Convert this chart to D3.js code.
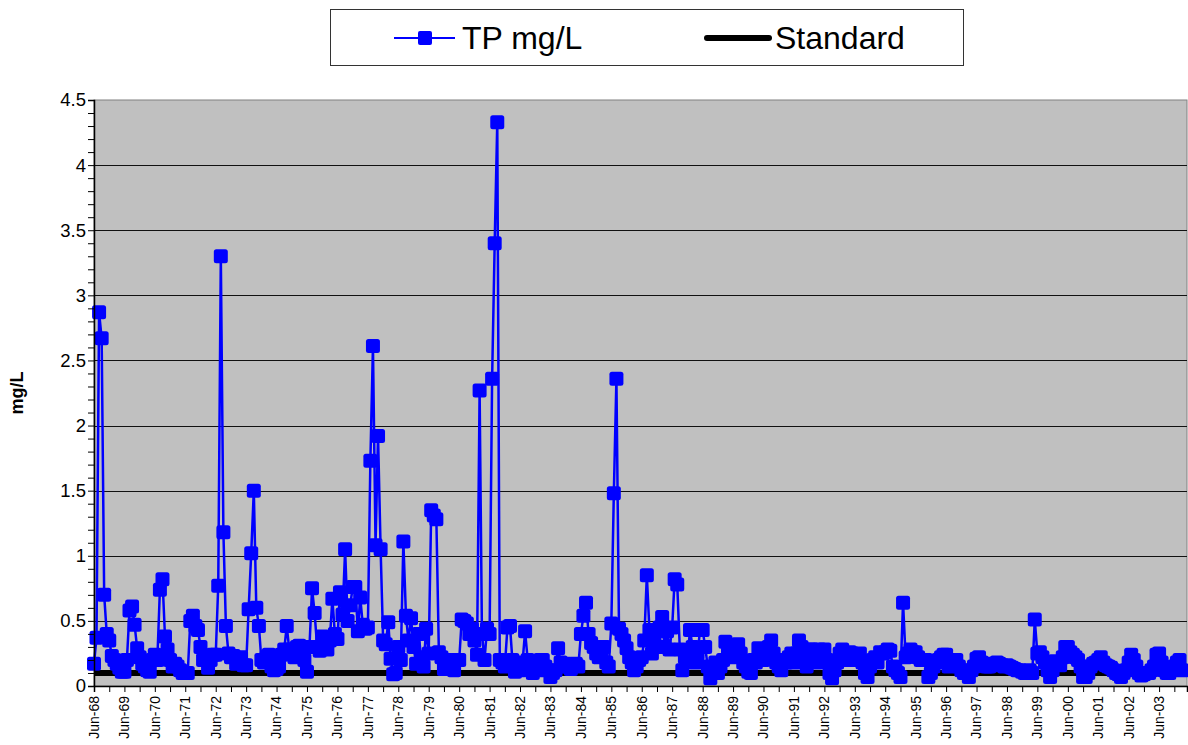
<!DOCTYPE html>
<html><head><meta charset="utf-8">
<script src="https://cdn.jsdelivr.net/npm/d3@7"></script>
<style>
body{margin:0;background:#fff;}
svg{display:block;font-family:Arial,"Liberation Sans",sans-serif;}
</style>
</head><body>
<svg id="chart" width="1188" height="745"></svg>
<script>
// ---- DATA (monthly samples, each array = Jun..May of one water year) ----
const firstYear = 1968;
const y1968 = [0.17, 0.37, 2.87, 2.67, 0.70, 0.40, 0.35, 0.23, 0.20, 0.17, 0.14, 0.11];
const y1969 = [0.11, 0.20, 0.58, 0.61, 0.47, 0.29, 0.22, 0.17, 0.15, 0.12, 0.11, 0.20];
const y1970 = [0.24, 0.20, 0.74, 0.82, 0.38, 0.28, 0.20, 0.15, 0.17, 0.15, 0.12, 0.10];
const y1971 = [0.10, 0.10, 0.50, 0.54, 0.46, 0.43, 0.30, 0.20, 0.22, 0.14, 0.20, 0.24];
const y1972 = [0.24, 0.77, 3.30, 1.18, 0.46, 0.25, 0.22, 0.23, 0.17, 0.20, 0.22, 0.16];
const y1973 = [0.16, 0.59, 1.02, 1.50, 0.60, 0.46, 0.20, 0.18, 0.22, 0.24, 0.15, 0.12];
const y1974 = [0.13, 0.15, 0.24, 0.28, 0.46, 0.28, 0.26, 0.22, 0.30, 0.31, 0.25, 0.20];
const y1975 = [0.11, 0.30, 0.75, 0.56, 0.30, 0.27, 0.38, 0.32, 0.28, 0.35, 0.67, 0.40];
const y1976 = [0.36, 0.72, 0.55, 1.05, 0.50, 0.62, 0.76, 0.76, 0.42, 0.68, 0.47, 0.44];
const y1977 = [0.45, 1.73, 2.61, 1.08, 1.92, 1.05, 0.35, 0.32, 0.49, 0.21, 0.09, 0.10];
const y1978 = [0.30, 0.20, 1.11, 0.54, 0.35, 0.52, 0.30, 0.17, 0.40, 0.22, 0.15, 0.44];
const y1979 = [0.25, 1.35, 1.31, 1.28, 0.26, 0.22, 0.13, 0.20, 0.18, 0.15, 0.12, 0.20];
const y1980 = [0.20, 0.51, 0.50, 0.48, 0.40, 0.44, 0.35, 0.24, 2.27, 0.40, 0.20, 0.44];
const y1981 = [0.40, 2.36, 3.40, 4.33, 0.20, 0.18, 0.15, 0.45, 0.46, 0.20, 0.11, 0.15];
const y1982 = [0.12, 0.18, 0.42, 0.20, 0.15, 0.10, 0.18, 0.12, 0.20, 0.20, 0.15, 0.12];
const y1983 = [0.07, 0.10, 0.12, 0.29, 0.18, 0.15, 0.17, 0.15, 0.13, 0.16, 0.17, 0.15];
const y1984 = [0.40, 0.54, 0.64, 0.40, 0.33, 0.30, 0.25, 0.22, 0.23, 0.30, 0.18, 0.15];
const y1985 = [0.48, 1.48, 2.36, 0.44, 0.40, 0.35, 0.29, 0.22, 0.18, 0.12, 0.15, 0.20];
const y1986 = [0.22, 0.35, 0.85, 0.43, 0.25, 0.35, 0.30, 0.45, 0.53, 0.30, 0.42, 0.28];
const y1987 = [0.45, 0.82, 0.78, 0.28, 0.12, 0.22, 0.20, 0.43, 0.30, 0.18, 0.25, 0.43];
const y1988 = [0.43, 0.30, 0.15, 0.06, 0.12, 0.18, 0.10, 0.15, 0.20, 0.34, 0.25, 0.28];
const y1989 = [0.22, 0.30, 0.32, 0.25, 0.18, 0.15, 0.11, 0.10, 0.20, 0.18, 0.29, 0.25];
const y1990 = [0.20, 0.28, 0.30, 0.35, 0.25, 0.18, 0.15, 0.12, 0.20, 0.18, 0.22, 0.25];
const y1991 = [0.18, 0.25, 0.35, 0.30, 0.22, 0.15, 0.28, 0.28, 0.20, 0.18, 0.28, 0.25];
const y1992 = [0.28, 0.20, 0.10, 0.06, 0.12, 0.18, 0.25, 0.28, 0.22, 0.20, 0.26, 0.25];
const y1993 = [0.22, 0.20, 0.25, 0.18, 0.10, 0.07, 0.15, 0.20, 0.22, 0.18, 0.26, 0.25];
const y1994 = [0.26, 0.28, 0.27, 0.15, 0.12, 0.10, 0.07, 0.64, 0.22, 0.25, 0.28, 0.26];
const y1995 = [0.26, 0.22, 0.20, 0.20, 0.20, 0.07, 0.10, 0.15, 0.18, 0.20, 0.22, 0.24];
const y1996 = [0.24, 0.15, 0.16, 0.17, 0.20, 0.15, 0.12, 0.10, 0.10, 0.07, 0.12, 0.15];
const y1997 = [0.21, 0.22, 0.18, 0.17, 0.15, 0.15, 0.16, 0.17, 0.18, 0.17, 0.16, 0.15];
const y1998 = [0.16, 0.15, 0.14, 0.13, 0.12, 0.12, 0.11, 0.10, 0.11, 0.12, 0.10, 0.51];
const y1999 = [0.25, 0.26, 0.22, 0.18, 0.12, 0.07, 0.12, 0.19, 0.18, 0.16, 0.22, 0.30];
const y2000 = [0.30, 0.26, 0.24, 0.22, 0.20, 0.15, 0.07, 0.07, 0.10, 0.15, 0.17, 0.18];
const y2001 = [0.20, 0.22, 0.18, 0.16, 0.15, 0.14, 0.12, 0.10, 0.09, 0.07, 0.10, 0.12];
const y2002 = [0.18, 0.24, 0.20, 0.15, 0.10, 0.08, 0.09, 0.10, 0.10, 0.12, 0.15, 0.24];
const y2003 = [0.25, 0.18, 0.12, 0.10, 0.10, 0.12, 0.15, 0.18, 0.20, 0.12];

const yearArrays = [y1968,y1969,y1970,y1971,y1972,y1973,y1974,y1975,y1976,y1977,y1978,
  y1979,y1980,y1981,y1982,y1983,y1984,y1985,y1986,y1987,y1988,y1989,y1990,y1991,y1992,
  y1993,y1994,y1995,y1996,y1997,y1998,y1999,y2000,y2001,y2002,y2003];
const standardValue = 0.1;
const seriesNames = ["TP mg/L", "Standard"];
const yTickValues = [0, 0.5, 1, 1.5, 2, 2.5, 3, 3.5, 4, 4.5];
const yTitle = "mg/L";

// build records
const tp = [];
yearArrays.forEach((arr, k) => arr.forEach((v, i) => {
  tp.push({date: new Date(firstYear + k, 5 + i, 1), value: v});
}));

// ---- LAYOUT ----
const plot = {left: 94, right: 1187, top: 100, bottom: 686};
const svg = d3.select("#chart");

const x = d3.scaleTime()
  .domain([new Date(1968, 5, 1), new Date(2004, 4, 1)])
  .range([plot.left, plot.right]);
const y = d3.scaleLinear().domain([0, 4.5]).range([plot.bottom, plot.top]);

// plot background
svg.append("rect").attr("x", plot.left).attr("y", plot.top)
  .attr("width", plot.right - plot.left).attr("height", plot.bottom - plot.top)
  .attr("fill", "#C0C0C0").attr("stroke", "#808080").attr("stroke-width", 1);

// gridlines
svg.append("g").selectAll("line").data(yTickValues.filter(d => d > 0 && d < 4.5)).join("line")
  .attr("x1", plot.left).attr("x2", plot.right)
  .attr("y1", d => Math.round(y(d)) + 0.5).attr("y2", d => Math.round(y(d)) + 0.5)
  .attr("stroke", "#111").attr("stroke-width", 1);

// standard line
svg.append("line")
  .attr("x1", x.range()[0]).attr("x2", x.range()[1])
  .attr("y1", y(standardValue)).attr("y2", y(standardValue))
  .attr("stroke", "#000").attr("stroke-width", 6);

// TP line
const line = d3.line().x(d => x(d.date)).y(d => y(d.value));
svg.append("path").datum(tp).attr("d", line)
  .attr("fill", "none").attr("stroke", "#0000FF").attr("stroke-width", 2.5).attr("stroke-linejoin", "round");

// markers
const ms = 14;
svg.append("g").selectAll("rect").data(tp).join("rect")
  .attr("x", d => x(d.date) - ms / 2).attr("y", d => y(d.value) - ms / 2)
  .attr("width", ms).attr("height", ms).attr("rx", 2.5)
  .attr("fill", "#0000FF");

// y axis
const yMinor = d3.range(0, 45.1, 1).map(d => d / 10);
const yAxis = d3.axisLeft(y).tickValues(yMinor).tickSize(6)
  .tickFormat(d => yTickValues.some(t => Math.abs(t - d) < 1e-9) ? d3.format("~g")(d) : "");
const gy = svg.append("g").attr("transform", `translate(${plot.left},0)`).call(yAxis);
gy.select(".domain").attr("stroke", "#000").attr("stroke-width", 1.5);
gy.selectAll(".tick line").attr("stroke", "#000");
gy.selectAll(".tick text").attr("font-size", 18.5).attr("fill", "#000").attr("x", -8)
  .attr("font-family", "Arial, 'Liberation Sans', sans-serif");

// x axis
const xTicks = d3.range(0, 432, 6).map(i => new Date(1968, 5 + i, 1));
const fmt = d3.timeFormat("%b-%y");
const xAxis = d3.axisBottom(x).tickValues(xTicks).tickSize(6).tickFormat("");
const gx = svg.append("g").attr("transform", `translate(0,${plot.bottom})`).call(xAxis);
gx.select(".domain").attr("stroke", "#000").attr("stroke-width", 1.5);
gx.selectAll(".tick line").attr("stroke", "#000");

svg.append("g").selectAll("text").data(xTicks.filter(d => d.getMonth() === 5)).join("text")
  .attr("transform", d => `translate(${x(d)},${plot.bottom + 10}) rotate(-90)`)
  .attr("text-anchor", "end").attr("dy", "0.35em")
  .attr("font-size", 14).attr("fill", "#000")
  .text(d => fmt(d));

// y title
svg.append("text").attr("transform", `translate(23,${(plot.top + plot.bottom) / 2}) rotate(-90)`)
  .attr("text-anchor", "middle").attr("font-size", 18).attr("font-weight", "bold")
  .text(yTitle);

// legend
const lg = svg.append("g");
lg.append("rect").attr("x", 330.5).attr("y", 9.5).attr("width", 633).attr("height", 56)
  .attr("fill", "#fff").attr("stroke", "#333").attr("stroke-width", 1);
lg.append("line").attr("x1", 394).attr("x2", 455).attr("y1", 38).attr("y2", 38)
  .attr("stroke", "#0000FF").attr("stroke-width", 2);
lg.append("rect").attr("x", 425 - ms / 2).attr("y", 38 - ms / 2).attr("width", ms).attr("height", ms)
  .attr("rx", 2).attr("fill", "#0000FF");
lg.append("text").attr("x", 462).attr("y", 49).attr("font-size", 32).text(seriesNames[0]);
lg.append("line").attr("x1", 707).attr("x2", 769).attr("y1", 38).attr("y2", 38)
  .attr("stroke", "#000").attr("stroke-width", 6).attr("stroke-linecap", "round");
lg.append("text").attr("x", 775).attr("y", 49).attr("font-size", 32).text(seriesNames[1]);
</script>
</body></html>
